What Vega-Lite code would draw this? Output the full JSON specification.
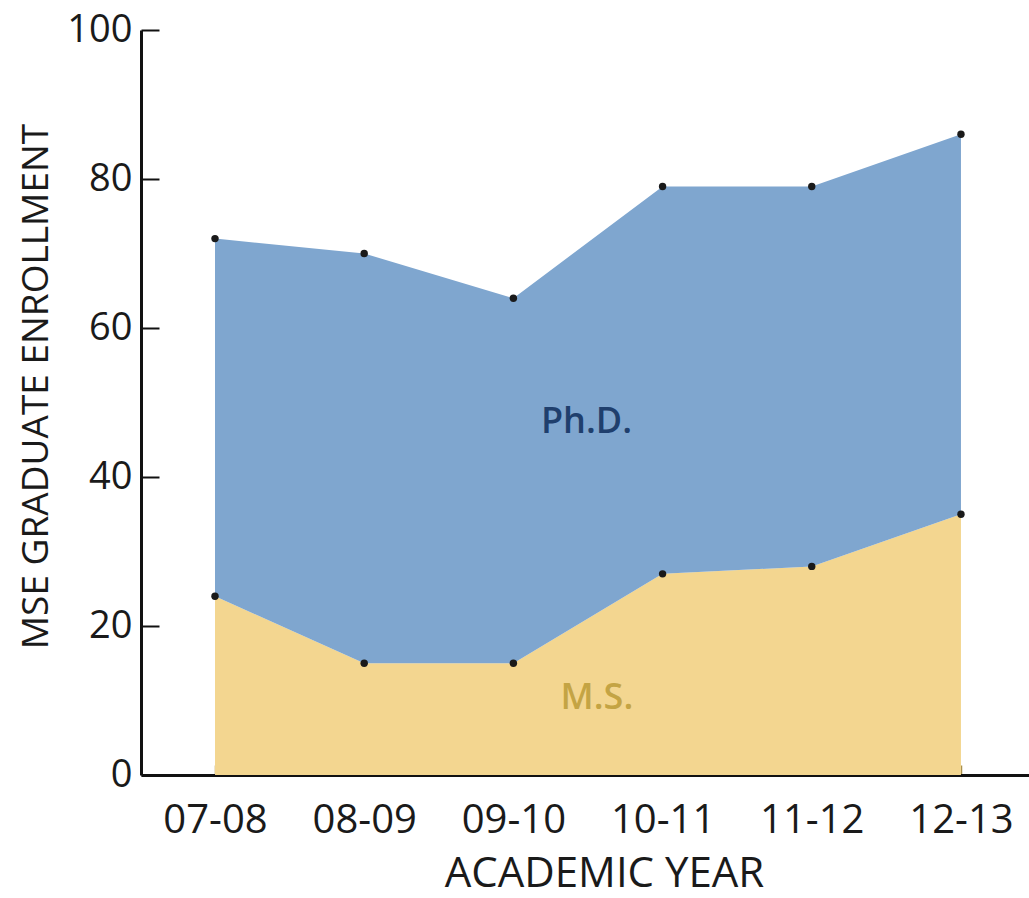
{
  "$schema": "https://vega.github.io/schema/vega-lite/v6.json",
  "width": 888,
  "height": 745,
  "autosize": {"type": "none"},
  "padding": {"left": 141, "top": 30, "right": 0, "bottom": 123},
  "background": "white",
  "config": {"view": {"stroke": null}, "font": "Open Sans"},
  "datasets": {
    "enroll": [
      {"year": "07-08", "idx": 0, "degree": "M.S.", "count": 24},
      {"year": "07-08", "idx": 0, "degree": "Ph.D.", "count": 48},
      {"year": "08-09", "idx": 1, "degree": "M.S.", "count": 15},
      {"year": "08-09", "idx": 1, "degree": "Ph.D.", "count": 55},
      {"year": "09-10", "idx": 2, "degree": "M.S.", "count": 15},
      {"year": "09-10", "idx": 2, "degree": "Ph.D.", "count": 49},
      {"year": "10-11", "idx": 3, "degree": "M.S.", "count": 27},
      {"year": "10-11", "idx": 3, "degree": "Ph.D.", "count": 52},
      {"year": "11-12", "idx": 4, "degree": "M.S.", "count": 28},
      {"year": "11-12", "idx": 4, "degree": "Ph.D.", "count": 51},
      {"year": "12-13", "idx": 5, "degree": "M.S.", "count": 35},
      {"year": "12-13", "idx": 5, "degree": "Ph.D.", "count": 51}
    ],
    "labels": [
      {"idx": 2.49, "count": 47.4, "degree": "Ph.D.", "text": "Ph.D."},
      {"idx": 2.56, "count": 10.3, "degree": "M.S.", "text": "M.S."}
    ]
  },
  "encoding": {
    "x": {
      "field": "idx",
      "type": "quantitative",
      "scale": {"domain": [-0.496, 5.456], "nice": false, "zero": false},
      "axis": {
        "values": [0, 1, 2, 3, 4, 5],
        "labelExpr": "['07-08','08-09','09-10','10-11','11-12','12-13'][datum.value]",
        "title": "ACADEMIC YEAR",
        "grid": false,
        "domainColor": "#111111",
        "domainWidth": 3,
        "tickSize": -10,
        "tickWidth": 1.5,
        "tickColor": "#a8904e",
        "labelFontSize": 40,
        "labelColor": "#1a1a1a",
        "labelPadding": 35,
        "labelFlush": false,
        "labelOverlap": false,
        "titleFontSize": 42,
        "titleFontWeight": "normal",
        "titleColor": "#1a1a1a",
        "titleX": 463,
        "titleY": 111,
        "titleBaseline": "alphabetic",
        "titleAlign": "center"
      }
    },
    "y": {
      "field": "count",
      "type": "quantitative",
      "scale": {"domain": [0, 100], "nice": false},
      "axis": {
        "values": [0, 20, 40, 60, 80, 100],
        "title": "MSE GRADUATE ENROLLMENT",
        "grid": false,
        "domainColor": "#111111",
        "domainWidth": 3,
        "tickSize": -18,
        "tickWidth": 2,
        "tickColor": "#111111",
        "labelFontSize": 38,
        "labelColor": "#1a1a1a",
        "labelPadding": 27,
        "labelFlush": false,
        "labelOverlap": false,
        "titleFontSize": 37,
        "titleFontWeight": "normal",
        "titleColor": "#1a1a1a",
        "titleX": -94,
        "titleY": 356,
        "titleAngle": -90,
        "titleBaseline": "alphabetic",
        "titleAlign": "center"
      }
    }
  },
  "layer": [
    {
      "data": {"name": "enroll"},
      "mark": {"type": "area", "opacity": 1},
      "encoding": {
        "color": {
          "field": "degree",
          "type": "nominal",
          "scale": {"domain": ["M.S.", "Ph.D."], "range": ["#f3d690", "#7fa6cf"]},
          "legend": null
        },
        "order": {"field": "degree", "sort": "ascending"}
      }
    },
    {
      "data": {"name": "enroll"},
      "mark": {"type": "point", "filled": true, "color": "#1a1a1a", "size": 55, "opacity": 1},
      "encoding": {
        "y": {"field": "count", "type": "quantitative", "stack": "zero"},
        "detail": {"field": "degree", "type": "nominal"},
        "order": {"field": "degree", "sort": "ascending"}
      }
    },
    {
      "data": {"values": [{"top": 100}]},
      "mark": {"type": "rule", "color": "#111111", "strokeWidth": 3},
      "encoding": {
        "x": {"datum": -0.496},
        "x2": {"datum": 5.456},
        "y": {"field": "top", "type": "quantitative"}
      }
    },
    {
      "data": {"name": "labels"},
      "mark": {"type": "text", "fontSize": 36, "fontWeight": 600, "baseline": "middle", "align": "center"},
      "encoding": {
        "text": {"field": "text"},
        "color": {
          "field": "degree",
          "type": "nominal",
          "scale": {"domain": ["M.S.", "Ph.D."], "range": ["#c4a444", "#1f3f6d"]},
          "legend": null
        }
      }
    }
  ],
  "resolve": {"scale": {"color": "independent"}}
}
